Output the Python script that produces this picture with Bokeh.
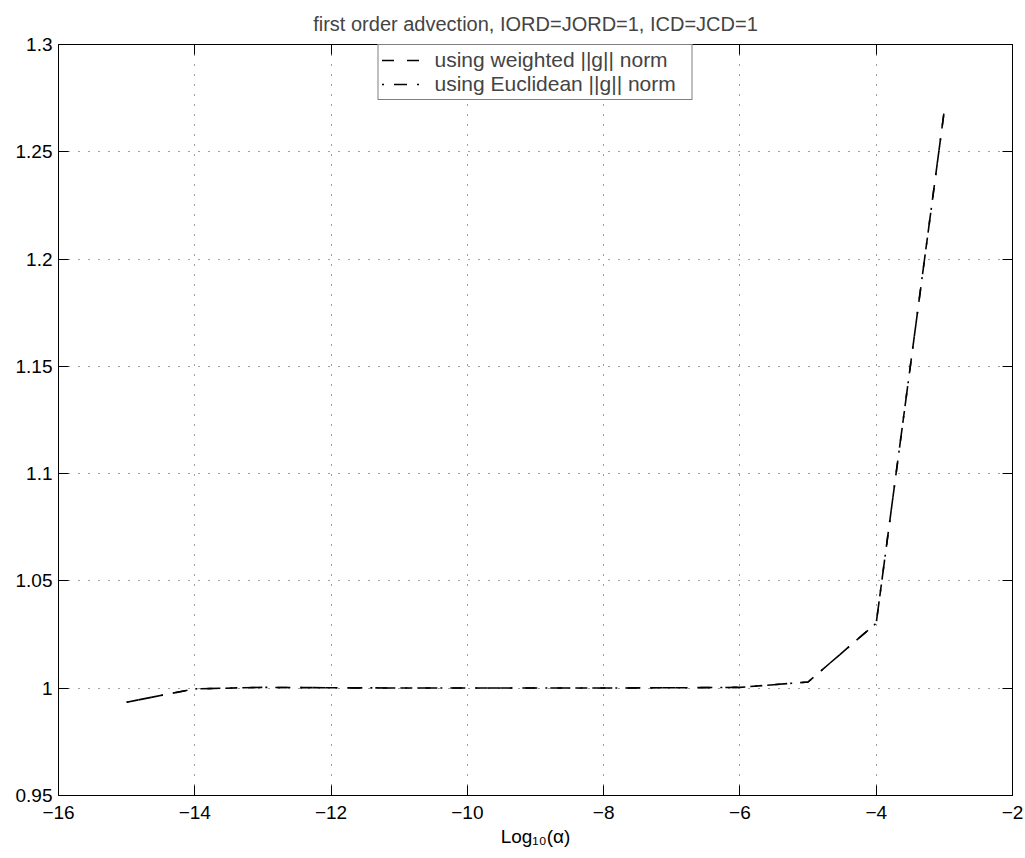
from bokeh.plotting import figure
from bokeh.models import (ColumnDataSource, FixedTicker, LinearAxis, Legend,
                          LegendItem, Range1d)
from bokeh.embed import file_html
from bokeh.resources import INLINE

# log10 of the regularisation parameter alpha
log_alpha = [-15, -14, -13, -12, -11, -10, -9, -8, -7, -6, -5, -4, -3]
weighted_norm = [0.9935, 0.9997, 1.0004, 1.0002, 1.0001, 1.0001, 1.0001,
                 1.0001, 1.0002, 1.0004, 1.0029, 1.0303, 1.2695]
euclidean_norm = [0.9935, 0.9997, 1.0004, 1.0002, 1.0001, 1.0001, 1.0001,
                  1.0001, 1.0002, 1.0004, 1.0029, 1.0303, 1.2695]

x_ticks = [-16, -14, -12, -10, -8, -6, -4, -2]
x_tick_labels = ["\u221216", "\u221214", "\u221212", "\u221210", "\u22128",
                 "\u22126", "\u22124", "\u22122"]
y_ticks = [0.95, 1.0, 1.05, 1.1, 1.15, 1.2, 1.25, 1.3]
y_tick_labels = ["0.95", "1", "1.05", "1.1", "1.15", "1.2", "1.25", "1.3"]

title_text = "first order advection, IORD=JORD=1, ICD=JCD=1"
x_label = "Log\u2081\u2080(\u03b1)"
series_names = ["using weighted ||g|| norm", "using Euclidean ||g|| norm"]

FONT = "Liberation Sans"

p = figure(frame_width=954, frame_height=751,
           x_range=Range1d(-16, -2), y_range=Range1d(0.95, 1.3),
           output_backend="svg", toolbar_location=None,
           min_border_left=58, min_border_right=13,
           min_border_top=44, min_border_bottom=63,
           background_fill_color="white", border_fill_color="white")

p.title.text = title_text
p.title.align = "center"
p.title.text_font = FONT
p.title.text_font_size = "20px"
p.title.text_font_style = "normal"
p.title.standoff = 20

p.outline_line_color = "black"
p.outline_line_width = 1
p.outline_line_alpha = 1


def style_axis(ax, ticks, labels=None):
    ax.ticker = FixedTicker(ticks=ticks)
    ax.axis_line_color = "black"
    ax.axis_line_width = 1
    ax.major_tick_line_color = "black"
    ax.major_tick_in = 10
    ax.major_tick_out = 0
    ax.minor_tick_line_color = None
    ax.major_label_text_font = FONT
    ax.major_label_text_color = "black"
    if labels is not None:
        ax.major_label_overrides = dict(zip(ticks, labels))
        ax.major_label_text_font_size = "19px"
    else:
        # mirrored tick marks only, no numbers on this side
        ax.major_label_overrides = {t: "" for t in ticks}
        ax.major_label_text_font_size = "0px"
        ax.major_label_standoff = 0


style_axis(p.xaxis[0], x_ticks, x_tick_labels)
p.xaxis[0].major_label_standoff = 10
p.xaxis[0].axis_label = x_label
p.xaxis[0].axis_label_text_font = FONT
p.xaxis[0].axis_label_text_font_size = "19px"
p.xaxis[0].axis_label_text_font_style = "normal"
p.xaxis[0].axis_label_text_color = "black"
p.xaxis[0].axis_label_standoff = 4
style_axis(p.yaxis[0], y_ticks, y_tick_labels)
p.yaxis[0].major_label_standoff = 6

top_axis = LinearAxis()
style_axis(top_axis, x_ticks)
p.add_layout(top_axis, "above")
right_axis = LinearAxis()
style_axis(right_axis, y_ticks)
p.add_layout(right_axis, "right")

for g in p.grid:
    g.grid_line_color = "black"
    g.grid_line_alpha = 0.75
    g.grid_line_dash = "1 9"
    g.grid_line_width = 1
p.xgrid.ticker = FixedTicker(ticks=x_ticks)
p.ygrid.ticker = FixedTicker(ticks=y_ticks)

src = ColumnDataSource(dict(x=log_alpha, w=weighted_norm, e=euclidean_norm))
r_w = p.line("x", "w", source=src, line_color="black", line_width=1.6,
             line_dash="12 13")
r_e = p.line("x", "e", source=src, line_color="black", line_width=1.6,
             line_dash="2 10 13 10")

legend = Legend(items=[LegendItem(label=series_names[0], renderers=[r_w]),
                       LegendItem(label=series_names[1], renderers=[r_e])],
                location="top_center")
legend.margin = 0
legend.padding = 3
legend.spacing = 0
legend.glyph_width = 40
legend.glyph_height = 24
legend.label_height = 24
legend.label_width = 254
legend.label_standoff = 13
legend.label_text_font = FONT
legend.label_text_font_size = "21px"
legend.border_line_color = "black"
legend.border_line_width = 1
legend.background_fill_color = "white"
legend.background_fill_alpha = 1
p.add_layout(legend, "center")

open("out.html", "w").write(file_html(p, INLINE))
